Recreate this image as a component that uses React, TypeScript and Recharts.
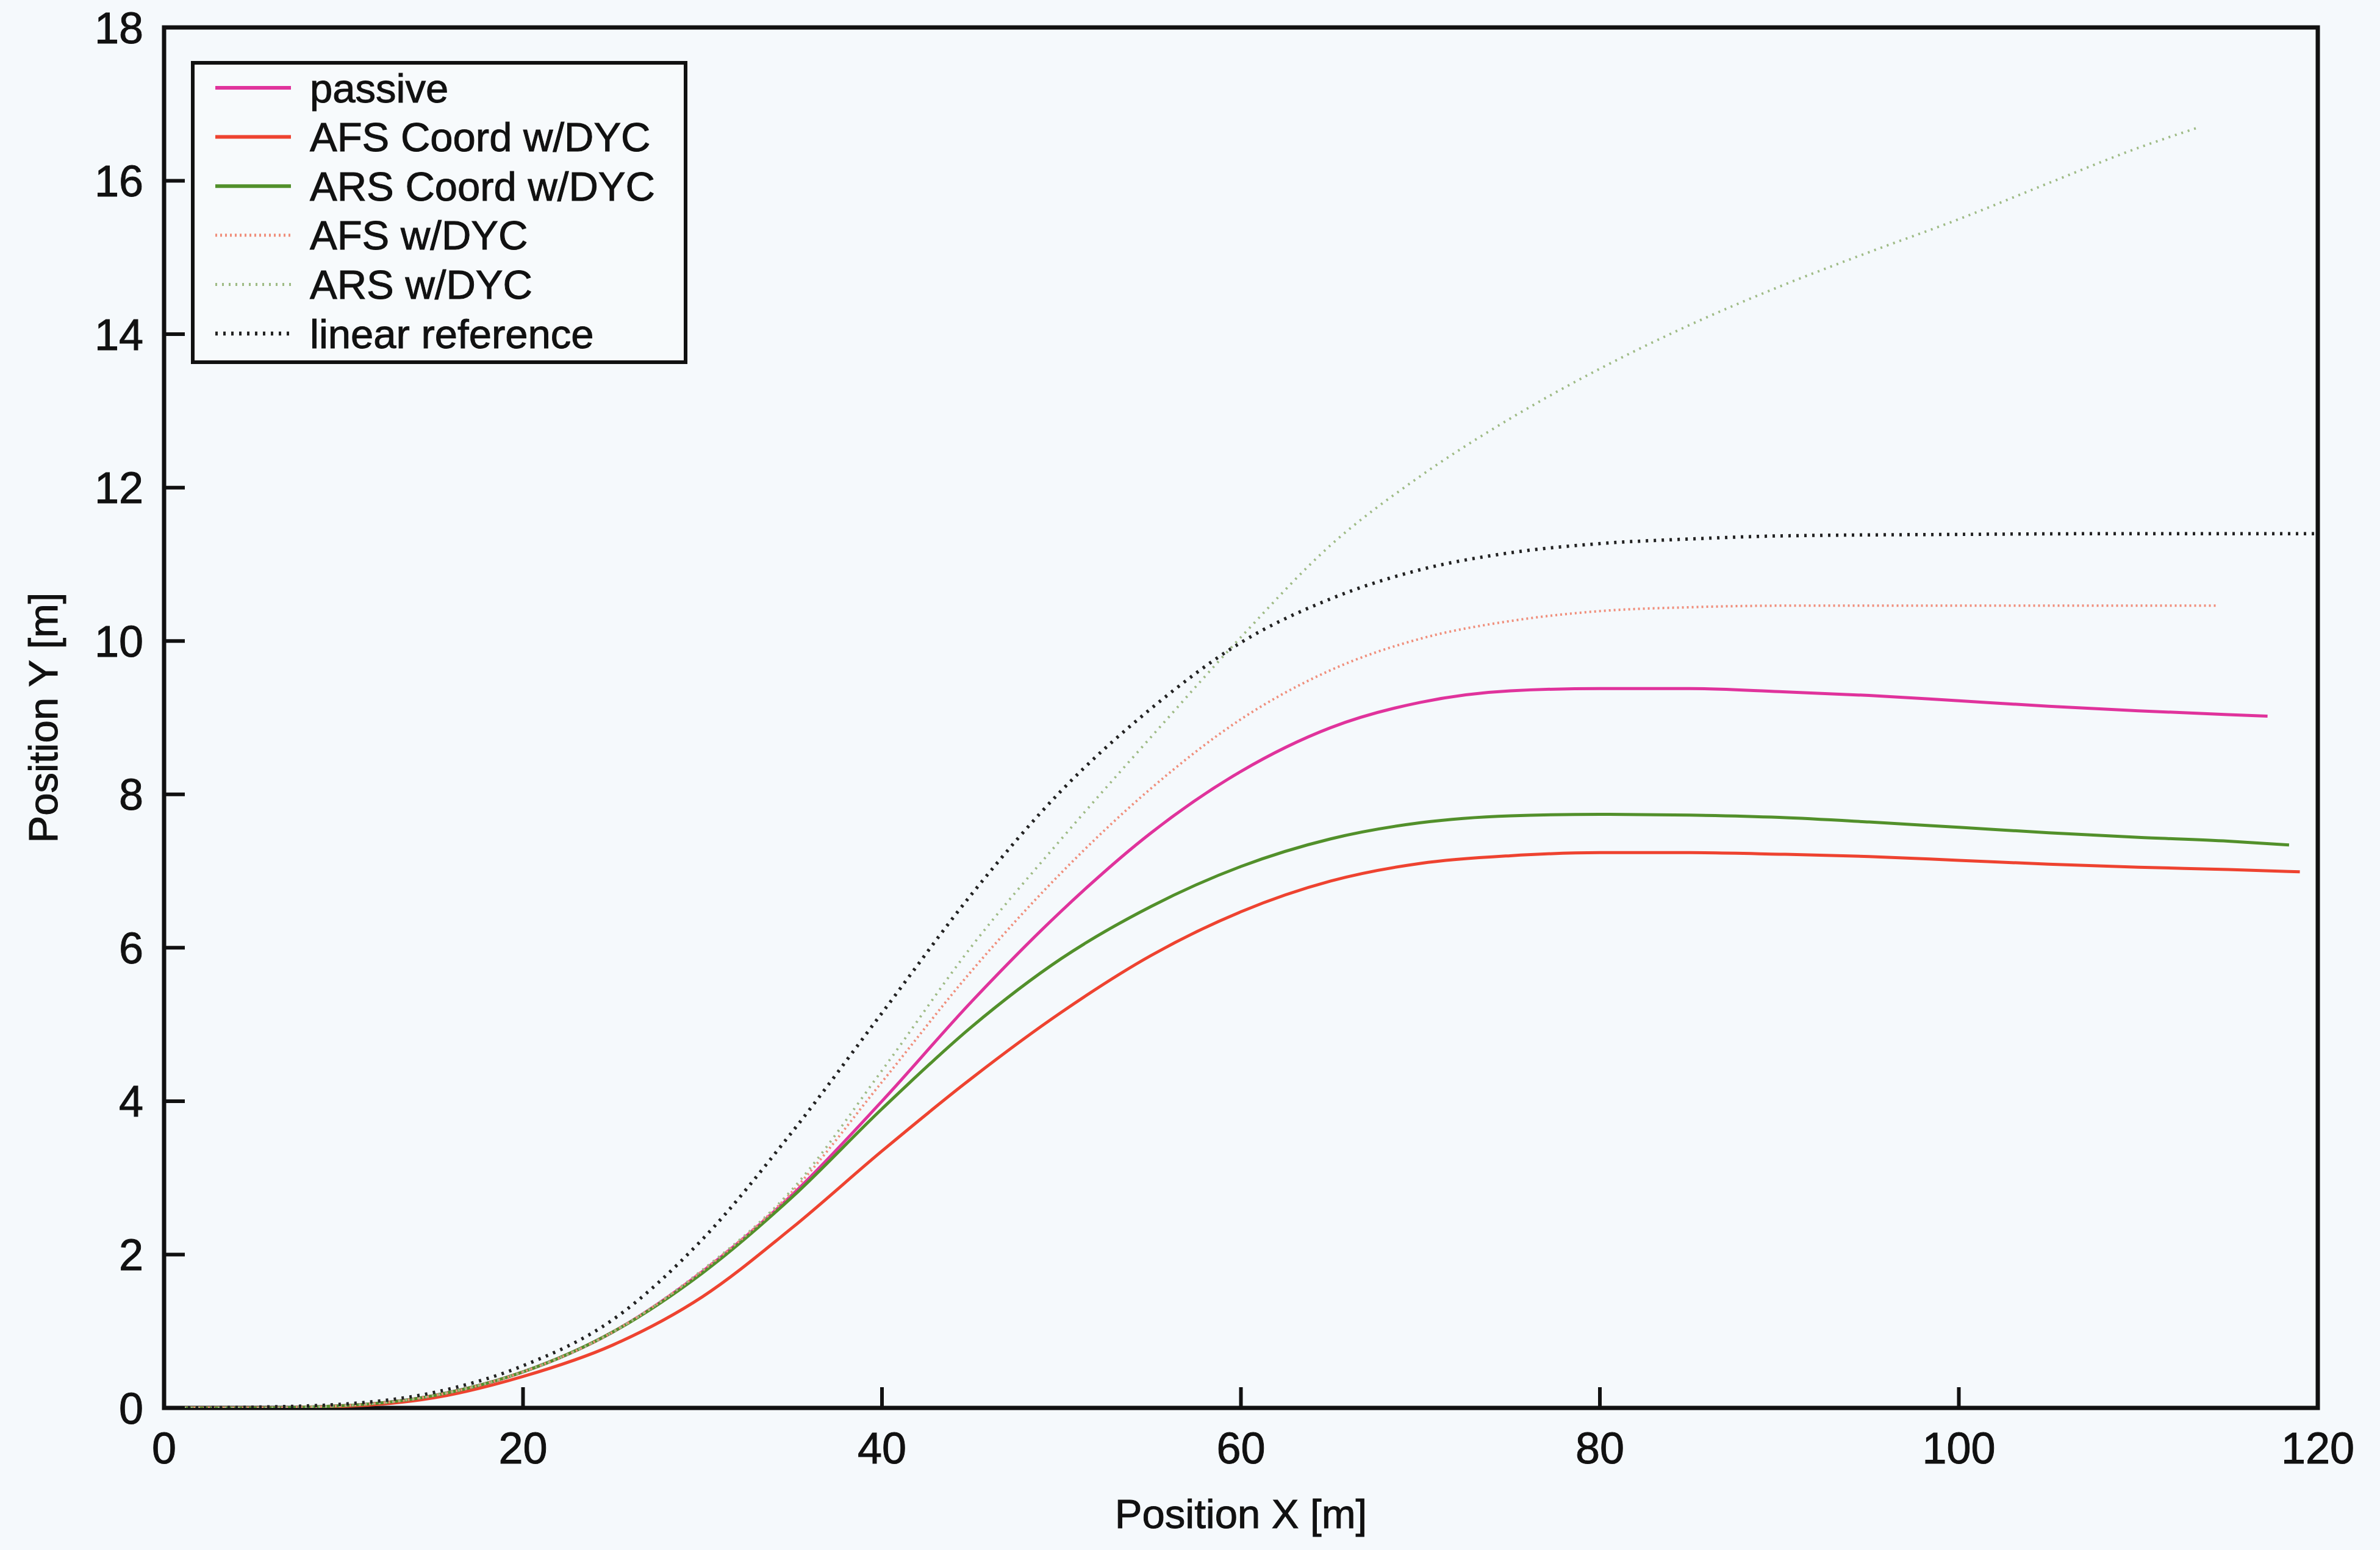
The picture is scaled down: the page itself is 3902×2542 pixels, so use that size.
import React from 'react';
import { LineChart, Line, XAxis, YAxis, ReferenceArea, Legend } from 'recharts';

// ---- data (x = Position X [m], y = Position Y [m]) ----
const passive: number[][] = [
  [0, 0], [5, 0], [10, 0.03], [15, 0.16], [20, 0.47], [25, 0.99], [30, 1.78], [35, 2.78], [40, 4.0],
  [45, 5.3], [50, 6.48], [55, 7.5], [60, 8.3], [65, 8.87], [70, 9.2], [75, 9.35], [80, 9.38],
  [85, 9.38], [90, 9.34], [95, 9.29], [100, 9.22], [105, 9.15], [110, 9.09], [115, 9.04], [117.2, 9.02],
];
const afsCoord: number[][] = [
  [0, 0], [5, 0], [10, 0.02], [15, 0.13], [20, 0.41], [25, 0.82], [30, 1.45], [35, 2.35], [40, 3.35],
  [45, 4.3], [50, 5.16], [55, 5.9], [60, 6.47], [65, 6.87], [70, 7.1], [75, 7.2], [80, 7.24],
  [85, 7.24], [90, 7.22], [95, 7.19], [100, 7.14], [105, 7.09], [110, 7.05], [115, 7.02], [119, 6.99],
];
const arsCoord: number[][] = [
  [0, 0], [5, 0], [10, 0.03], [15, 0.16], [20, 0.47], [25, 0.99], [30, 1.76], [35, 2.75], [40, 3.9],
  [45, 4.97], [50, 5.86], [55, 6.54], [60, 7.06], [65, 7.42], [70, 7.63], [75, 7.72], [80, 7.74],
  [85, 7.73], [90, 7.7], [95, 7.64], [100, 7.57], [105, 7.5], [110, 7.44], [115, 7.39], [118.4, 7.34],
];
const afsDyc: number[][] = [
  [0, 0], [5, 0], [10, 0.03], [15, 0.16], [20, 0.47], [25, 0.99], [30, 1.79], [35, 2.82], [40, 4.25],
  [45, 5.7], [50, 6.98], [55, 8.08], [60, 8.98], [65, 9.62], [70, 10.03], [75, 10.26], [80, 10.39],
  [85, 10.44], [90, 10.46], [100, 10.46], [110, 10.46], [114.4, 10.46],
];
const arsDyc: number[][] = [
  [0, 0], [5, 0], [10, 0.03], [15, 0.16], [20, 0.47], [25, 0.99], [30, 1.8], [35, 2.85], [40, 4.4],
  [45, 6.02], [50, 7.42], [55, 8.75], [60, 10.05], [65, 11.25], [70, 12.15], [75, 12.9], [80, 13.55],
  [85, 14.12], [90, 14.62], [95, 15.07], [100, 15.5], [105, 15.97], [110, 16.43], [113.4, 16.7],
];
const linearRef: number[][] = [
  [0, 0], [5, 0.01], [10, 0.05], [15, 0.2], [20, 0.55], [25, 1.15], [30, 2.2], [35, 3.6], [40, 5.15],
  [45, 6.7], [50, 8.05], [55, 9.12], [60, 9.98], [65, 10.55], [70, 10.93], [75, 11.15], [80, 11.27],
  [85, 11.33], [90, 11.37], [100, 11.39], [110, 11.4], [120, 11.4],
];

const xTicks = [0, 20, 40, 60, 80, 100, 120];
const yTicks = [0, 2, 4, 6, 8, 10, 12, 14, 16, 18];

const toRows = (pts: number[][]) => pts.map(([x, y]) => ({ x, y }));

const series = [
  { name: 'passive', data: passive, color: '#e0339c', width: 5, dash: undefined as string | undefined },
  { name: 'AFS Coord w/DYC', data: afsCoord, color: '#ee4330', width: 5, dash: undefined },
  { name: 'ARS Coord w/DYC', data: arsCoord, color: '#52902b', width: 5, dash: undefined },
  { name: 'AFS w/DYC', data: afsDyc, color: '#f08f7c', width: 4, dash: '3 5' },
  { name: 'ARS w/DYC', data: arsDyc, color: '#9fbb86', width: 4, dash: '3 8' },
  { name: 'linear reference', data: linearRef, color: '#222222', width: 5.5, dash: '4 9' },
];

const FONT = '"Liberation Sans", Arial, Helvetica, sans-serif';
const INK = '#111';

const LegendBox = () => (
  <div
    style={{
      width: 814,
      height: 497,
      boxSizing: 'border-box',
      border: `6px solid ${INK}`,
      background: '#f7fafc',
    }}
  >
    <svg width={802} height={485}>
      {series.map((s, i) => {
        const cy = 38 + i * 80.6;
        return (
          <g key={s.name}>
            <line x1={34} x2={158} y1={cy} y2={cy} stroke={s.color} strokeWidth={s.width + 1} strokeDasharray={s.dash} />
            <text
              x={189}
              y={cy}
              dominantBaseline="central"
              fontFamily={FONT}
              fontSize={67}
              fill={INK}
              stroke={INK}
              strokeWidth={1}
            >
              {s.name}
            </text>
          </g>
        );
      })}
    </svg>
  </div>
);

export default function App() {
  const axisStroke = { stroke: INK, strokeWidth: 6 };
  const tickFont = { fontSize: 72, fontFamily: FONT, fill: INK, stroke: INK, strokeWidth: 1 };
  return (
    <div style={{ position: 'absolute', left: 0, top: 0, width: 3902, height: 2542, background: '#f5f9fc' }}>
      <LineChart width={3902} height={2542} margin={{ top: 44, right: 101, left: 0, bottom: 0 }}>
        <XAxis
          dataKey="x"
          type="number"
          domain={[0, 120]}
          ticks={xTicks}
          allowDataOverflow
          height={233}
          axisLine={false}
          tickLine={axisStroke}
          tickSize={-34}
          tickMargin={74}
          tick={tickFont}
          label={{
            value: 'Position X [m]',
            position: 'insideBottom',
            offset: 36,
            fontSize: 67,
            fontFamily: FONT,
            fill: INK,
            stroke: INK,
            strokeWidth: 1,
          }}
        />
        <XAxis
          xAxisId="top"
          orientation="top"
          dataKey="x"
          type="number"
          domain={[0, 120]}
          ticks={xTicks}
          height={1}
          axisLine={false}
          tickLine={axisStroke}
          tickSize={-34}
          tick={false}
        />
        <YAxis
          type="number"
          domain={[0, 18]}
          ticks={yTicks}
          allowDataOverflow
          width={269}
          axisLine={false}
          tickLine={axisStroke}
          tickSize={-34}
          tickMargin={68}
          tick={tickFont}
          label={{
            value: 'Position Y [m]',
            angle: -90,
            position: 'insideLeft',
            offset: 70,
            fontSize: 67,
            fontFamily: FONT,
            fill: INK,
            stroke: INK,
            strokeWidth: 1,
            style: { textAnchor: 'middle' },
          }}
        />
        <YAxis
          yAxisId="right"
          orientation="right"
          type="number"
          domain={[0, 18]}
          ticks={yTicks}
          width={1}
          axisLine={false}
          tickLine={axisStroke}
          tickSize={-34}
          tick={false}
        />
        <ReferenceArea x1={0} x2={120} y1={0} y2={18} fill="none" fillOpacity={0} stroke={INK} strokeWidth={7} ifOverflow="visible" />
        {series.map((s) => (
          <Line
            key={s.name}
            name={s.name}
            data={toRows(s.data)}
            dataKey="y"
            type="monotone"
            stroke={s.color}
            strokeWidth={s.width}
            strokeDasharray={s.dash}
            dot={false}
            activeDot={false}
            isAnimationActive={false}
          />
        ))}
        <Legend
          layout="horizontal"
          align="center"
          verticalAlign="middle"
          content={() => <LegendBox />}
          wrapperStyle={{ left: 313, top: 100, width: 814, height: 497 }}
        />
      </LineChart>
    </div>
  );
}
